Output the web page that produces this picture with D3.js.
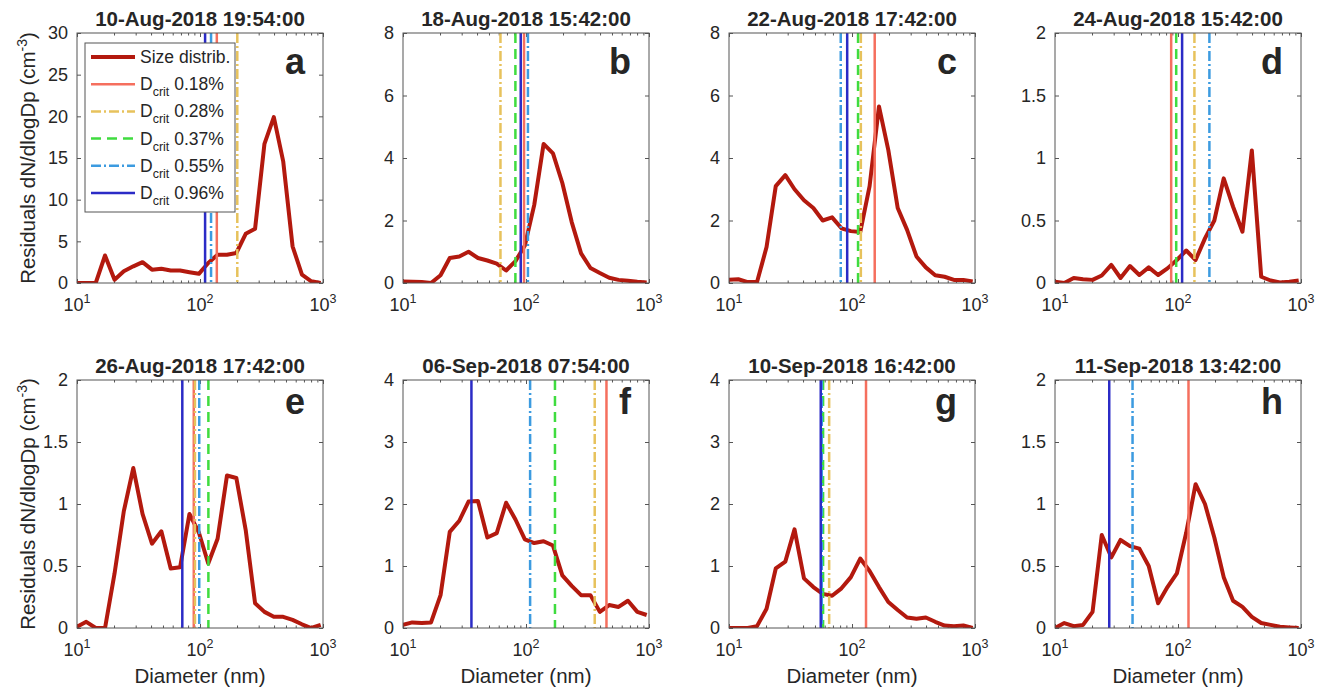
<!DOCTYPE html>
<html>
<head>
<meta charset="utf-8">
<script src="https://cdn.jsdelivr.net/npm/d3@7"></script>
<style>
body { margin: 0; background: #fff; }
text { font-family: "Liberation Sans", Arial, Helvetica, sans-serif; fill: #262626; }
</style>
</head>
<body>
<div id="chart"></div>
<script>
// particle diameters (nm), shared by all panels
var diameters = [10.0, 11.9, 14.2, 16.9, 20.2, 24.0, 28.7, 34.1, 40.7, 48.5, 57.8, 68.9, 82.1, 97.9,
  116.7, 139.0, 165.7, 197.4, 235.3, 280.4, 334.2, 398.3, 474.7, 565.7, 674.3, 803.5, 957.6];

// residual size distributions dN/dlogDp (cm-3)
var sizeA = [0, 0, 0, 3.3, 0.4, 1.4, 2.0, 2.5, 1.6, 1.7, 1.5, 1.5, 1.3, 1.1, 2.4, 3.4, 3.4, 3.6, 5.9, 6.5, 16.7, 19.9, 14.6, 4.4, 1.0, 0.2, 0];
var sizeB = [0.05, 0.04, 0.03, 0.0, 0.25, 0.8, 0.85, 1.0, 0.8, 0.72, 0.62, 0.4, 0.7, 1.2, 2.5, 4.45, 4.15, 3.2, 1.95, 0.95, 0.48, 0.32, 0.17, 0.1, 0.07, 0.04, 0.02];
var sizeC = [0.1, 0.12, 0.03, 0.03, 1.15, 3.1, 3.45, 3.0, 2.65, 2.4, 2.0, 2.1, 1.75, 1.66, 1.63, 3.1, 5.65, 4.25, 2.4, 1.7, 0.85, 0.5, 0.25, 0.2, 0.1, 0.1, 0.05];
var sizeD = [0.01, 0.0, 0.04, 0.03, 0.025, 0.06, 0.145, 0.04, 0.136, 0.064, 0.125, 0.064, 0.117, 0.184, 0.26, 0.184, 0.357, 0.5, 0.837, 0.61, 0.41, 1.06, 0.05, 0.02, 0.005, 0.01, 0.02];
var sizeE = [0.01, 0.05, 0, 0, 0.44, 0.94, 1.29, 0.92, 0.68, 0.78, 0.48, 0.49, 0.92, 0.77, 0.52, 0.72, 1.23, 1.21, 0.79, 0.2, 0.13, 0.09, 0.09, 0.065, 0.03, 0, 0.025];
var sizeF = [0.05, 0.09, 0.08, 0.09, 0.53, 1.55, 1.73, 2.04, 2.05, 1.46, 1.53, 2.02, 1.75, 1.43, 1.37, 1.4, 1.33, 0.85, 0.68, 0.53, 0.53, 0.26, 0.37, 0.34, 0.44, 0.26, 0.21];
var sizeG = [0, 0, 0, 0.03, 0.31, 0.96, 1.07, 1.59, 0.8, 0.66, 0.55, 0.52, 0.64, 0.82, 1.12, 0.92, 0.66, 0.42, 0.29, 0.17, 0.15, 0.17, 0.1, 0.04, 0.03, 0.04, 0];
var sizeH = [0, 0.04, 0.015, 0.025, 0.13, 0.75, 0.57, 0.71, 0.66, 0.64, 0.5, 0.2, 0.33, 0.44, 0.77, 1.16, 1.0, 0.73, 0.41, 0.22, 0.17, 0.09, 0.04, 0.025, 0.01, 0.005, 0];

// critical diameters (nm) for each supersaturation, order as dcritLabels
var dcritLabels = ["0.18%", "0.28%", "0.37%", "0.55%", "0.96%"];
var dcritA = [137, 201, null, 123, 110];
var dcritB = [96.4, 62, 82, 103.7, 90.6];
var dcritC = [153, 118, 112, 81, 91.4];
var dcritD = [88, 136, 96.7, 180, 108];
var dcritE = [89, 91, 117, 98.6, 71.8];
var dcritF = [451, 362, 172, 108, 36];
var dcritG = [130, 65.2, 58.2, 56.8, 55.7];
var dcritH = [121.7, null, null, 42.7, 27.6];

var panelTitles = ["10-Aug-2018 19:54:00", "18-Aug-2018 15:42:00", "22-Aug-2018 17:42:00", "24-Aug-2018 15:42:00",
  "26-Aug-2018 17:42:00", "06-Sep-2018 07:54:00", "10-Sep-2018 16:42:00", "11-Sep-2018 13:42:00"];
var panelLetters = ["a", "b", "c", "d", "e", "f", "g", "h"];
var yMaxima = [30, 8, 8, 2, 2, 4, 4, 2];
var yTickSteps = [5, 2, 2, 0.5, 0.5, 1, 1, 0.5];
var xTickValues = [10, 100, 1000];
var xTickExponents = ["1", "2", "3"];

var sizeSeries = [sizeA, sizeB, sizeC, sizeD, sizeE, sizeF, sizeG, sizeH];
var dcritSeries = [dcritA, dcritB, dcritC, dcritD, dcritE, dcritF, dcritG, dcritH];

// styles
var curveColor = "#b3190e";
var dcritColors = ["#f56f5e", "#e7c25c", "#3fdc3f", "#3c9be0", "#2b2bc6"];
var dcritDash = [null, "10,3,2,3", "10,6", "10,3,2,3", null];

var colLeft = [77, 403, 729, 1055], plotW = 246;
var rowTop = [33, 380], plotH = [250, 248];
var letterY = [41, 34];

var svg = d3.select("#chart").append("svg")
  .attr("width", 1326)
  .attr("height", 691);

var x = d3.scaleLog().domain([10, 1000]).range([0, plotW]);
var minorTicks = [20, 30, 40, 50, 60, 70, 80, 90, 200, 300, 400, 500, 600, 700, 800, 900];

sizeSeries.forEach(function(values, p) {
  var row = Math.floor(p / 4), col = p % 4;
  var h = plotH[row];
  var y = d3.scaleLinear().domain([0, yMaxima[p]]).range([h, 0]);
  var g = svg.append("g").attr("transform", "translate(" + colLeft[col] + "," + rowTop[row] + ")");

  g.append("clipPath").attr("id", "clip" + p)
    .append("rect").attr("width", plotW).attr("height", h);

  var yTicks = d3.range(0, yMaxima[p] + 1e-9, yTickSteps[p]);

  // axes (ticks inside, mirrored like matlab box)
  g.append("g").attr("transform", "translate(0," + h + ")")
    .call(d3.axisBottom(x).tickValues(xTickValues).tickSize(-4).tickSizeOuter(0).tickFormat(""));
  g.append("g").attr("transform", "translate(0," + h + ")")
    .call(d3.axisBottom(x).tickValues(minorTicks).tickSize(-2.5).tickSizeOuter(0).tickFormat(""));
  g.append("g")
    .call(d3.axisTop(x).tickValues(xTickValues).tickSize(-4).tickSizeOuter(0).tickFormat(""));
  g.append("g")
    .call(d3.axisTop(x).tickValues(minorTicks).tickSize(-2.5).tickSizeOuter(0).tickFormat(""));
  g.append("g")
    .call(d3.axisLeft(y).tickValues(yTicks).tickSize(-4).tickSizeOuter(0).tickPadding(9)
      .tickFormat(function(d) { return String(+d.toFixed(2)); }));
  g.append("g").attr("transform", "translate(" + plotW + ",0)")
    .call(d3.axisRight(y).tickValues(yTicks).tickSize(-4).tickSizeOuter(0).tickFormat(""));

  g.selectAll(".domain").remove();
  g.selectAll(".tick line").attr("stroke", "#555");
  g.selectAll(".tick text").attr("font-size", "18px").attr("font-family", null).attr("fill", "#262626");

  // x tick labels 10^n
  xTickValues.forEach(function(v, i) {
    var t = g.append("text")
      .attr("x", x(v))
      .attr("y", h + 28)
      .attr("text-anchor", "middle")
      .attr("font-size", "18px")
      .text("10");
    t.append("tspan").attr("dy", -8).attr("font-size", "12.5px").text(xTickExponents[i]);
  });

  // size distribution
  var line = d3.line()
    .x(function(d, i) { return x(diameters[i]); })
    .y(function(d) { return y(d); });
  g.append("path")
    .datum(values)
    .attr("clip-path", "url(#clip" + p + ")")
    .attr("d", line)
    .attr("fill", "none")
    .attr("stroke", curveColor)
    .attr("stroke-width", 4)
    .attr("stroke-linejoin", "round");

  // critical diameters
  dcritSeries[p].forEach(function(dc, k) {
    if (dc === null) return;
    g.append("line")
      .attr("x1", x(dc)).attr("x2", x(dc))
      .attr("y1", 0).attr("y2", h)
      .attr("stroke", dcritColors[k])
      .attr("stroke-width", 2.5)
      .attr("stroke-dasharray", dcritDash[k]);
  });

  // box
  g.append("rect")
    .attr("width", plotW).attr("height", h)
    .attr("fill", "none").attr("stroke", "#555").attr("stroke-width", 1);

  // title and panel letter
  g.append("text")
    .attr("x", plotW / 2).attr("y", -7)
    .attr("text-anchor", "middle")
    .attr("font-size", "20.5px").attr("font-weight", "bold")
    .attr("fill", "#111")
    .text(panelTitles[p]);
  g.append("text")
    .attr("x", plotW - 18).attr("y", letterY[row])
    .attr("text-anchor", "end")
    .attr("font-size", "36px").attr("font-weight", "bold")
    .attr("fill", "#000")
    .text(panelLetters[p]);

  if (row == 1) {
    g.append("text")
      .attr("x", plotW / 2).attr("y", h + 55)
      .attr("text-anchor", "middle")
      .attr("font-size", "20.5px")
      .text("Diameter (nm)");
  }
  if (col == 0) {
    var yl = g.append("text")
      .attr("transform", "translate(" + (35 - colLeft[0]) + "," + (h / 2) + ") rotate(-90)")
      .attr("text-anchor", "middle")
      .attr("font-size", "20.5px")
      .text("Residuals dN/dlogDp (cm");
    yl.append("tspan").attr("dy", -8).attr("font-size", "14px").text("-3");
    yl.append("tspan").attr("dy", 8).text(")");
  }

  //Legend
  if (p == 0) {
    var lg = g.append("g").attr("transform", "translate(8,10)");
    lg.append("rect").attr("width", 150).attr("height", 169)
      .attr("fill", "#fff").attr("stroke", "#555").attr("stroke-width", 1);
    var rowY = function(i) { return 14 + i * 27.2; };
    lg.append("line").attr("x1", 6).attr("x2", 50).attr("y1", rowY(0)).attr("y2", rowY(0))
      .attr("stroke", curveColor).attr("stroke-width", 4);
    lg.append("text").attr("x", 55).attr("y", rowY(0) + 6).attr("font-size", "17.5px").text("Size distrib.");
    dcritLabels.forEach(function(lab, k) {
      var yy = rowY(k + 1);
      lg.append("line").attr("x1", 6).attr("x2", 50).attr("y1", yy).attr("y2", yy)
        .attr("stroke", dcritColors[k]).attr("stroke-width", 2.5)
        .attr("stroke-dasharray", dcritDash[k]);
      var t = lg.append("text").attr("x", 55).attr("y", yy + 6).attr("font-size", "17.5px").text("D");
      t.append("tspan").attr("dy", 6).attr("font-size", "12.5px").text("crit");
      t.append("tspan").attr("dy", -6).text(" " + lab);
    });
  }
});
</script>
</body>
</html>
